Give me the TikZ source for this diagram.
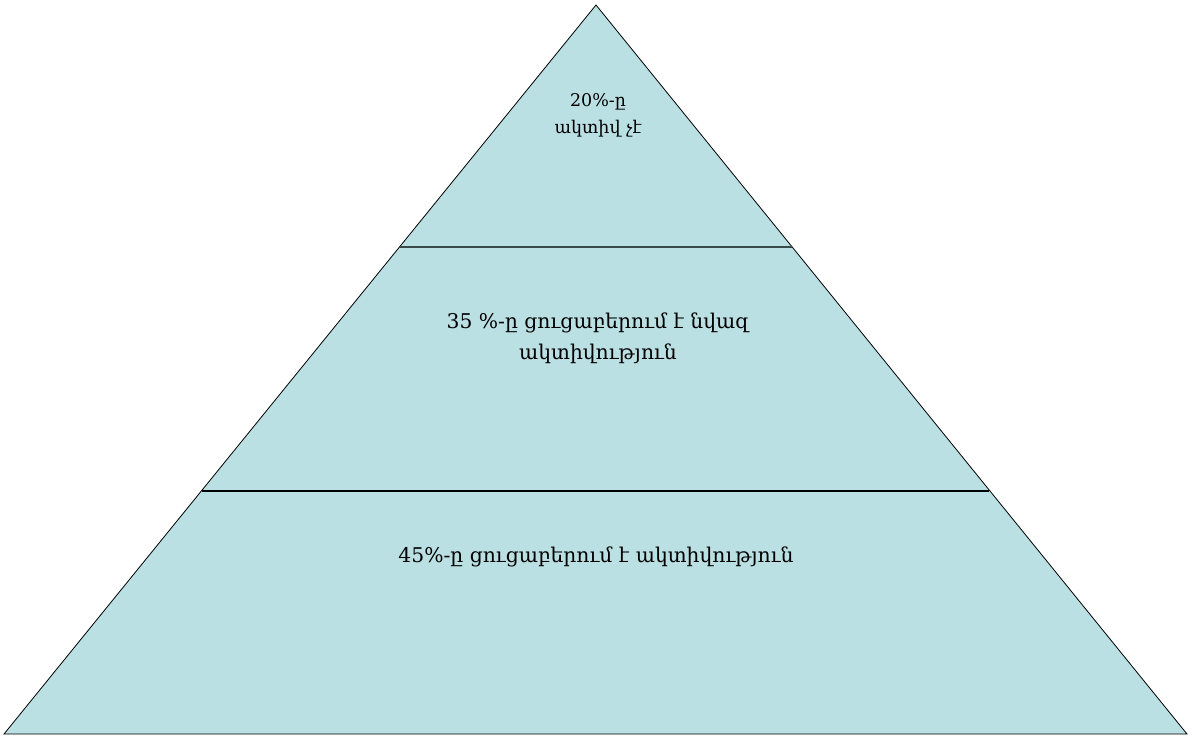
\documentclass[tikz,border=0pt]{standalone}
\usepackage{fontspec}
\setmainfont{DejaVu Serif}
\definecolor{pyrfill}{RGB}{186,224,227}
\definecolor{divgray}{RGB}{58,74,74}
\begin{document}
\begin{tikzpicture}[x=1pt,y=-1pt,
  lbl/.style={align=center,text=black,inner sep=0pt},
  edge/.style={draw=black,line width=0.8pt,line join=miter}]
\useasboundingbox (0,0) rectangle (1192,742);
\coordinate (apex) at (596,5);
\coordinate (bl) at (4,734);
\coordinate (br) at (1187,734);
\coordinate (l1a) at (400,247);
\coordinate (l1b) at (792,247);
\coordinate (l2a) at (202,491);
\coordinate (l2b) at (989,491);
\fill[pyrfill] (apex) -- (br) -- (bl) -- cycle;
\draw[edge] (apex) -- (br) -- (bl) -- cycle;
\draw[divgray,line width=2pt] (l1a) -- (l1b);
\draw[black,line width=2pt] (l2a) -- (l2b);
\node[lbl,font=\fontsize{17.5}{27}\selectfont] (t1) at (598,115) {20\%-ը\\ակտիվ չէ};
\node[lbl,font=\fontsize{20.3}{31}\selectfont] (t2) at (598,338) {35 \%-ը ցուցաբերում է նվազ\\ակտիվություն};
\node[lbl,font=\fontsize{20.3}{31}\selectfont] (t3) at (596,557) {45\%-ը ցուցաբերում է ակտիվություն};
\end{tikzpicture}
\end{document}
